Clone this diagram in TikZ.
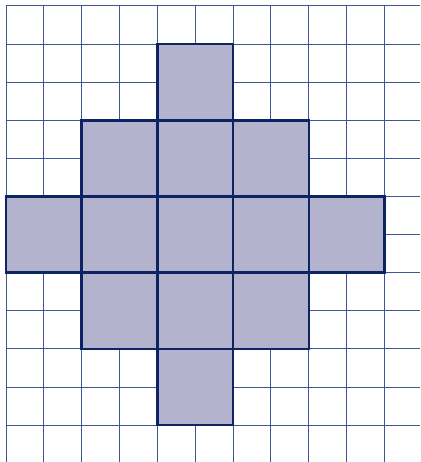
\documentclass[tikz,border=0pt]{standalone}
\definecolor{gridc}{RGB}{62,86,145}
\definecolor{fillc}{RGB}{179,179,205}
\definecolor{edgec}{RGB}{12,36,100}
\tikzset{
  gridline/.style={draw=gridc, line width=1pt},
  cellsq/.style={fill=fillc, draw=edgec, line width=2.6pt, line join=miter},
}
\begin{document}
\begin{tikzpicture}[x=1pt,y=-1pt]
\useasboundingbox (0,0) rectangle (420,462);
\fill[white] (0,0) rectangle (420,462);
% grid
\foreach \k in {0,...,10} {
  \draw[gridline] ({6+37.85*\k},6) -- ({6+37.85*\k},462);
}
\foreach \k in {0,...,11} {
  \draw[gridline] (6,{6+38.1*\k}) -- (420,{6+38.1*\k});
}
% shaded squares (top-left grid index col,row)
\foreach \c/\r in {4/1, 2/3, 4/3, 6/3, 0/5, 2/5, 4/5, 6/5, 8/5, 2/7, 4/7, 6/7, 4/9} {
  \draw[cellsq] ({6+37.85*\c},{6+38.1*\r}) rectangle ({6+37.85*(\c+2)},{6+38.1*(\r+2)});
}
\end{tikzpicture}
\end{document}
